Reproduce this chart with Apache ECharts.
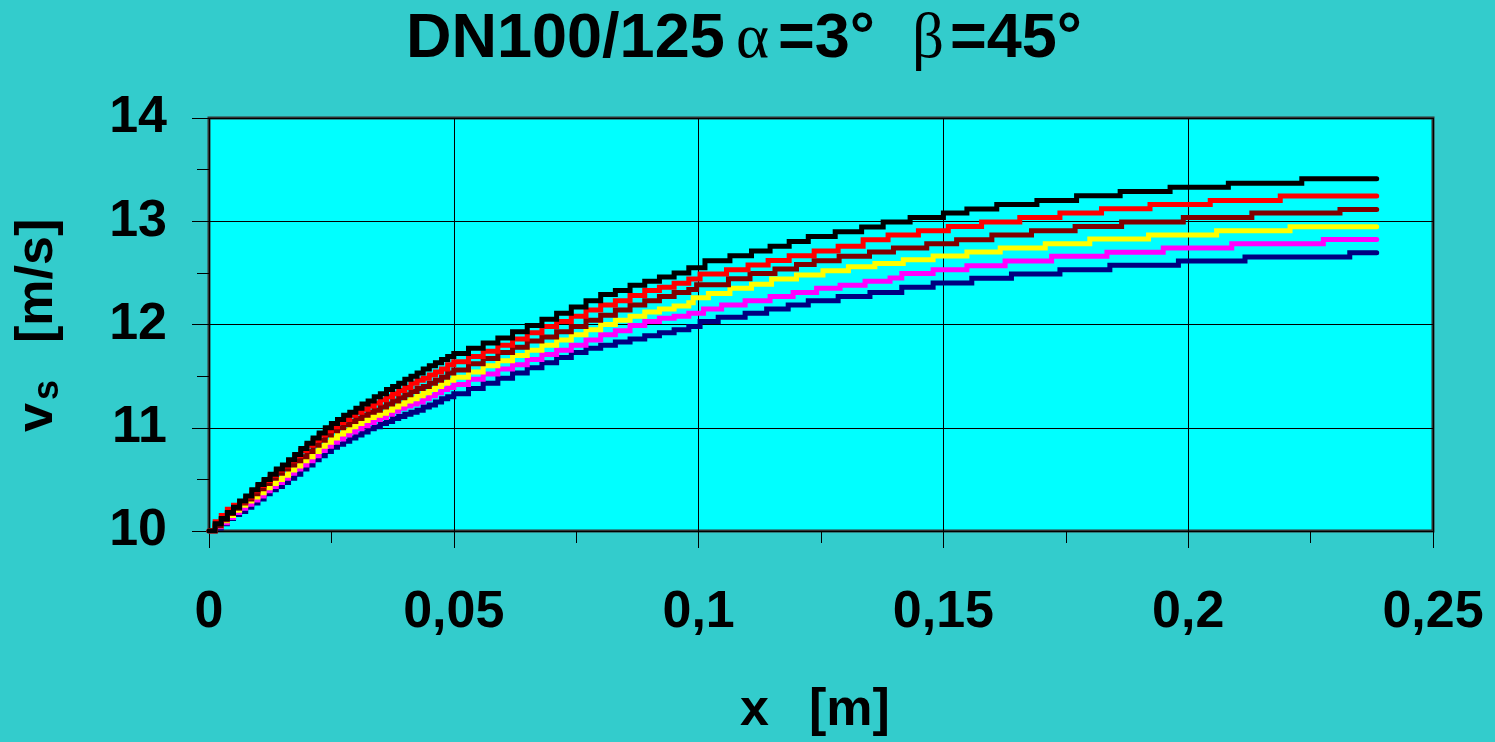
<!DOCTYPE html>
<html>
<head>
<meta charset="utf-8">
<script src="https://cdn.jsdelivr.net/npm/echarts/dist/echarts.min.js"></script>
<style>
  html, body { margin: 0; padding: 0; background: #33CCCC; }
  #chart { width: 1495px; height: 742px; }
</style>
</head>
<body>
<div id="chart"></div>
<script>
// Shared x positions (m) for the steep start of the curves
const xSampled = [0, 0.00125, 0.0025, 0.00375, 0.005, 0.00625, 0.0075, 0.00875, 0.01, 0.01125,
  0.0125, 0.01375, 0.015, 0.01625, 0.0175, 0.01875, 0.02, 0.02125, 0.0225, 0.02375,
  0.025, 0.02625, 0.0275, 0.02875, 0.03, 0.03125, 0.0325, 0.03375, 0.035, 0.03625,
  0.0375, 0.03875, 0.04, 0.04125, 0.0425, 0.04375, 0.045, 0.04625, 0.0475, 0.04875,
  0.05, 0.053, 0.056, 0.059, 0.062, 0.065, 0.068, 0.071, 0.074, 0.077,
  0.080, 0.083, 0.086, 0.089, 0.092, 0.095, 0.098];

// v_s (m/s) at xSampled, one array per curve
const vsBlack = [10.00,10.07,10.12,10.18,10.23,10.29,10.34,10.40,10.45,10.50,
  10.55,10.60,10.64,10.69,10.74,10.80,10.85,10.90,10.95,11.00,
  11.04,11.08,11.12,11.15,11.19,11.23,11.26,11.30,11.33,11.37,
  11.40,11.43,11.47,11.50,11.53,11.57,11.60,11.63,11.66,11.69,
  11.72,11.77,11.82,11.87,11.93,11.99,12.05,12.11,12.17,12.23,
  12.29,12.33,12.38,12.42,12.46,12.50,12.55];
const vsRed = [10.00,10.09,10.15,10.21,10.25,10.28,10.33,10.39,10.44,10.49,
  10.54,10.59,10.63,10.68,10.73,10.78,10.83,10.88,10.93,10.97,
  11.01,11.05,11.08,11.12,11.15,11.18,11.21,11.24,11.27,11.30,
  11.33,11.36,11.39,11.43,11.46,11.48,11.51,11.54,11.57,11.61,
  11.64,11.69,11.74,11.80,11.86,11.92,11.98,12.03,12.08,12.14,
  12.19,12.23,12.28,12.33,12.36,12.40,12.44];
const vsDarkRed = [10.00,10.05,10.11,10.17,10.22,10.27,10.31,10.36,10.41,10.46,
  10.51,10.56,10.60,10.64,10.68,10.72,10.77,10.83,10.88,10.93,
  10.97,11.00,11.03,11.06,11.09,11.12,11.15,11.17,11.20,11.23,
  11.26,11.29,11.32,11.35,11.38,11.40,11.43,11.46,11.49,11.53,
  11.56,11.62,11.67,11.73,11.78,11.84,11.88,11.93,11.98,12.04,
  12.09,12.14,12.19,12.23,12.27,12.31,12.34];
const vsYellow = [10.00,10.05,10.10,10.15,10.20,10.25,10.29,10.33,10.37,10.42,
  10.46,10.50,10.54,10.59,10.63,10.68,10.72,10.77,10.82,10.86,
  10.90,10.94,10.97,11.01,11.04,11.07,11.10,11.12,11.14,11.17,
  11.20,11.23,11.26,11.28,11.31,11.34,11.37,11.40,11.43,11.46,
  11.49,11.54,11.60,11.65,11.70,11.75,11.80,11.85,11.90,11.95,
  12.00,12.04,12.08,12.12,12.15,12.18,12.21];
const vsMagenta = [10.00,10.04,10.08,10.13,10.18,10.22,10.26,10.30,10.34,10.39,
  10.43,10.47,10.51,10.56,10.60,10.64,10.68,10.73,10.78,10.82,
  10.86,10.89,10.93,10.96,10.99,11.02,11.05,11.08,11.10,11.13,
  11.16,11.19,11.21,11.23,11.25,11.28,11.31,11.34,11.37,11.39,
  11.42,11.47,11.52,11.57,11.61,11.66,11.71,11.75,11.80,11.85,
  11.90,11.94,11.99,12.03,12.06,12.08,12.11];
const vsNavy = [10.00,10.03,10.07,10.12,10.16,10.19,10.23,10.27,10.31,10.36,
  10.40,10.43,10.47,10.51,10.55,10.60,10.64,10.69,10.73,10.77,
  10.81,10.84,10.87,10.90,10.93,10.96,10.99,11.01,11.04,11.06,
  11.09,11.11,11.13,11.15,11.17,11.20,11.22,11.25,11.28,11.30,
  11.33,11.38,11.43,11.48,11.53,11.58,11.63,11.68,11.73,11.77,
  11.80,11.83,11.86,11.89,11.92,11.95,11.98];

// Later part: [x where the value steps up, new v_s], last pair = end of the curve
const stepsBlack = [[0.1013,12.618],[0.1064,12.667],[0.1108,12.712],[0.1146,12.757],[0.1185,12.805],[0.1224,12.853],[0.1279,12.899],[0.1333,12.944],[0.1377,12.992],[0.1432,13.037],[0.1500,13.079],[0.1548,13.118],[0.1609,13.162],[0.1691,13.201],[0.1772,13.246],[0.1861,13.288],[0.1963,13.330],[0.2082,13.369],[0.2232,13.411],[0.2385,13.411]];
const stepsRed = [[0.1003,12.490],[0.1057,12.531],[0.1101,12.577],[0.1142,12.621],[0.1185,12.667],[0.1236,12.712],[0.1285,12.757],[0.1336,12.821],[0.1387,12.867],[0.1449,12.908],[0.1510,12.950],[0.1578,12.992],[0.1656,13.037],[0.1738,13.079],[0.1823,13.121],[0.1922,13.162],[0.2045,13.201],[0.2188,13.244],[0.2385,13.244]];
const stepsDarkRed = [[0.0996,12.386],[0.1061,12.442],[0.1105,12.493],[0.1156,12.538],[0.1200,12.580],[0.1236,12.618],[0.1287,12.660],[0.1349,12.702],[0.1398,12.741],[0.1466,12.783],[0.1527,12.821],[0.1599,12.867],[0.1680,12.908],[0.1769,12.950],[0.1864,12.992],[0.1990,13.037],[0.2130,13.079],[0.2310,13.114],[0.2385,13.114]];
const stepsYellow = [[0.0989,12.26],[0.1020,12.30],[0.1064,12.35],[0.1108,12.39],[0.1149,12.44],[0.1200,12.48],[0.1254,12.52],[0.1306,12.56],[0.1360,12.59],[0.1418,12.628],[0.1479,12.664],[0.1548,12.702],[0.1616,12.741],[0.1708,12.783],[0.1799,12.828],[0.1919,12.867],[0.2058,12.908],[0.2208,12.947],[0.2385,12.947]];
const stepsMagenta = [[0.1010,12.15],[0.1047,12.19],[0.1095,12.23],[0.1146,12.27],[0.1193,12.31],[0.1241,12.35],[0.1289,12.38],[0.1340,12.42],[0.1391,12.45],[0.1415,12.493],[0.1479,12.531],[0.1548,12.570],[0.1626,12.616],[0.1721,12.660],[0.1834,12.699],[0.1949,12.741],[0.2089,12.783],[0.2276,12.824],[0.2385,12.824]];
const stepsNavy = [[0.1003,12.03],[0.1040,12.07],[0.1095,12.11],[0.1139,12.15],[0.1183,12.19],[0.1224,12.23],[0.1285,12.27],[0.1350,12.31],[0.1415,12.36],[0.1479,12.403],[0.1558,12.447],[0.1639,12.490],[0.1738,12.531],[0.1840,12.573],[0.1980,12.616],[0.2116,12.654],[0.2330,12.696],[0.2385,12.696]];

// Axis ticks
const xTicks = [0, 0.05, 0.1, 0.15, 0.2, 0.25];
const yTicks = [10, 11, 12, 13, 14];

const SANS = '"Liberation Sans", Arial, sans-serif';
const SERIF = '"Liberation Serif", "Times New Roman", serif';

function curve(vs, steps) {
  return xSampled.map((x, i) => [x, vs[i]]).concat(steps);
}

// drawn bottom to top
const curves = [
  { color: '#000080', vs: vsNavy,    steps: stepsNavy },
  { color: '#FF00FF', vs: vsMagenta, steps: stepsMagenta },
  { color: '#FFFF00', vs: vsYellow,  steps: stepsYellow },
  { color: '#800000', vs: vsDarkRed, steps: stepsDarkRed },
  { color: '#FF0000', vs: vsRed,     steps: stepsRed },
  { color: '#000000', vs: vsBlack,   steps: stepsBlack }
];

const fmt = v => String(+Number(v).toFixed(4)).replace('.', ',');

const chart = echarts.init(document.getElementById('chart'), null, { renderer: 'canvas' });

const boldText = (text, x, y, size) => ({
  type: 'text', x: x, y: y, silent: true,
  style: { text: text, font: 'bold ' + size + 'px ' + SANS, fill: '#000',
           align: 'left', textAlign: 'left', verticalAlign: 'middle', textVerticalAlign: 'middle' }
});
const greekText = (text, x, y, size) => ({
  type: 'text', x: x, y: y, silent: true,
  style: { text: text, font: size + 'px ' + SERIF, fill: '#000',
           align: 'left', textAlign: 'left', verticalAlign: 'middle', textVerticalAlign: 'middle' }
});

chart.setOption({
  backgroundColor: '#33CCCC',
  animation: false,
  grid: {
    left: 209, top: 118, width: 1224, height: 413,
    show: true, backgroundColor: '#00FFFF', borderColor: '#333333', borderWidth: 3
  },
  xAxis: {
    type: 'value', min: xTicks[0], max: xTicks[xTicks.length - 1], interval: xTicks[1] - xTicks[0],
    axisLine: { show: false },
    axisTick: { show: true, length: 17, lineStyle: { color: '#000', width: 1 } },
    minorTick: { show: true, splitNumber: 2, length: 12, lineStyle: { color: '#000', width: 1 } },
    splitLine: { show: true, lineStyle: { color: '#000', width: 1 } },
    axisLabel: {
      margin: 82, verticalAlign: 'middle', color: '#000',
      fontSize: 52, fontWeight: 'bold', fontFamily: SANS, formatter: fmt
    }
  },
  yAxis: {
    type: 'value', min: yTicks[0], max: yTicks[yTicks.length - 1], interval: yTicks[1] - yTicks[0],
    axisLine: { show: false },
    axisTick: { show: true, length: 17, lineStyle: { color: '#000', width: 1 } },
    minorTick: { show: true, splitNumber: 2, length: 12, lineStyle: { color: '#000', width: 1 } },
    splitLine: { show: true, lineStyle: { color: '#000', width: 1 } },
    axisLabel: {
      margin: 42, color: '#000',
      fontSize: 52, fontWeight: 'bold', fontFamily: SANS, formatter: fmt
    }
  },
  series: curves.map(c => ({
    type: 'line', step: 'end', showSymbol: false, symbol: 'none',
    data: curve(c.vs, c.steps),
    lineStyle: { color: c.color, width: 5, cap: 'round', join: 'miter' },
    itemStyle: { color: c.color },
    emphasis: { disabled: true }
  })),
  graphic: [
    // title: DN100/125 α=3° β=45°
    boldText('DN100/125', 406, 40, 63),
    greekText('\u03B1', 736, 40, 63),
    boldText('=3\u00B0', 778, 40, 63),
    greekText('\u03B2', 912, 40, 63),
    boldText('=45\u00B0', 950, 40, 63),
    // x axis title
    boldText('x', 740, 711, 52),
    boldText('[m]', 809, 711, 52),
    // y axis title, rotated
    {
      type: 'group', x: 38, y: 324, rotation: Math.PI / 2, silent: true,
      children: [
        boldText('v', -108, 0, 52),
        boldText('s', -76, 10, 36),
        boldText('[m/s]', -19, 0, 52)
      ]
    }
  ]
});
</script>
</body>
</html>
